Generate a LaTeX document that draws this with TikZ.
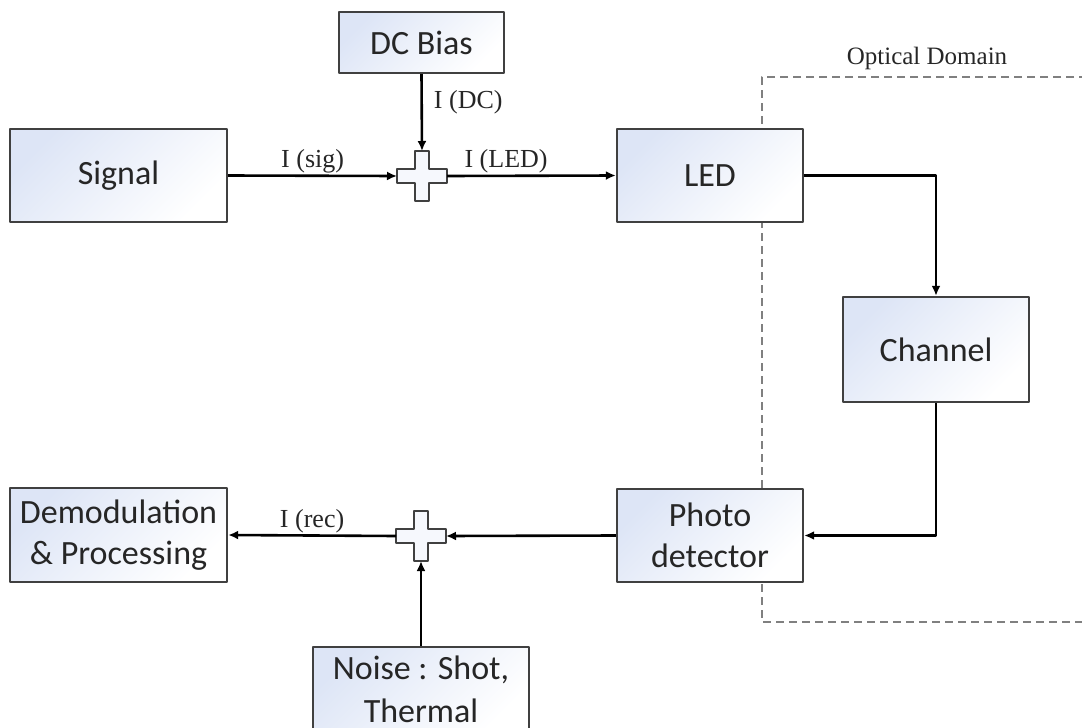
\documentclass[tikz,border=0pt]{standalone}
\usepackage{fontspec}
\setmainfont{Carlito}
\newfontfamily\lblfont{Liberation Serif}
\usetikzlibrary{arrows.meta}
\definecolor{boxblue}{RGB}{221,229,246}
\definecolor{boxline}{RGB}{64,64,64}
\begin{document}
\begin{tikzpicture}[x=0.5pt,y=-0.5pt,>={Latex[length=5pt,width=4.5pt]},line join=round]
	\tikzset{block/.style={draw=boxline,line width=1.2pt,left color=boxblue,right color=white,shading angle=45,
			align=center,inner sep=0pt,text=black!85,font=\fontsize{17}{20.5}\selectfont},
		lbl/.style={font=\lblfont\fontsize{13}{15}\selectfont,text=black!85,inner sep=0.5pt},
		wire/.style={line width=1.3pt,->},
		sumnode/.style={minimum size=25pt,inner sep=0pt,outer sep=0pt},
		plusfill/.style={draw=boxline,line width=1pt,fill=boxblue!25}}
	%% page size in pixels
	\useasboundingbox (0,0) rectangle (1082,728);
	%% optical domain frame
	\draw[gray,line width=0.6pt,dash pattern=on 4pt off 2.5pt] (1100,77) -- (762,77) -- (762,622) -- (1100,622);
	\node[lbl,font=\lblfont\fontsize{12.5}{15}\selectfont] (optlbl) at (927,58) {Optical Domain};
	%% blocks
	\node[block,minimum width=108.5pt,minimum height=46.5pt] (signal) at (118.5,175.5) {Signal};
	\node[block,minimum width=82.5pt,minimum height=30.5pt] (dcbias) at (421.5,42.5) {DC Bias};
	\node[block,minimum width=93pt,minimum height=46.5pt] (led) at (710,175.5) {LED};
	\node[block,minimum width=93pt,minimum height=52.5pt] (channel) at (936,349.5) {Channel};
	\node[block,minimum width=93pt,minimum height=46.5pt] (photo) at (710,535.5) {Photo\\detector};
	\node[block,minimum width=108.5pt,minimum height=47pt] (demod) at (118.5,535) {Demodulation\\\& Processing};
	\node[block,minimum width=108pt,minimum height=42pt,font=\fontsize{17}{21.5}\selectfont] (noise) at (421,689) {Noise : Shot,\\Thermal};
	%% adders
	\node[sumnode] (sumA) at (422,176) {};
	\node[sumnode] (sumB) at (421,536) {};
	\foreach \s in {sumA,sumB}
		\draw[plusfill,shift={(\s)}] (-25,-7)--(-7,-7)--(-7,-25)--(7,-25)--(7,-7)--(25,-7)
			--(25,7)--(7,7)--(7,25)--(-7,25)--(-7,7)--(-25,7)--cycle;
	%% connections
	\draw[wire] (signal.east) -- node[lbl,above] {I (sig)} (sumA.west);
	\draw[wire] (dcbias.south) -- node[lbl,right=5pt,pos=0.37] {I (DC)} (sumA.north);
	\draw[wire] (sumA.east) -- node[lbl,above,pos=0.35] {I (LED)} (led.west);
	\draw[wire] (led.east) -| (channel.north);
	\draw[wire] (channel.south) |- (photo.east);
	\draw[wire] (photo.west) -- (sumB.east);
	\draw[wire] (noise.north) -- (sumB.south);
	\draw[wire] (sumB.west) -- node[lbl,above] {I (rec)} (demod.east);
\end{tikzpicture}
\end{document}
